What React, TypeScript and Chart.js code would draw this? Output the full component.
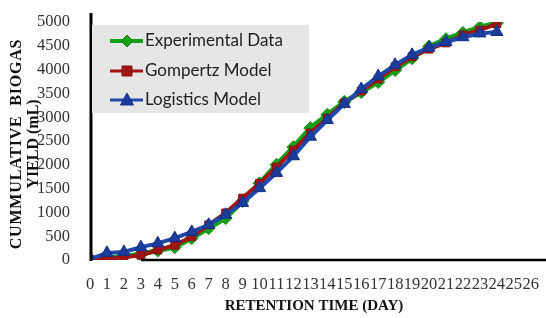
import React, { useEffect, useRef } from "react";
import { Chart, registerables } from "chart.js";

Chart.register(...registerables);

const days = [0, 1, 2, 3, 4, 5, 6, 7, 8, 9, 10, 11, 12, 13, 14, 15, 16, 17, 18, 19, 20, 21, 22, 23, 24];
const experimental = [30, 40, 80, 120, 200, 270, 460, 670, 880, 1240, 1610, 2000, 2370, 2770, 3050, 3320, 3530, 3740, 3990, 4240, 4480, 4640, 4770, 4890, 4980];
const gompertz = [10, 20, 60, 100, 210, 310, 490, 740, 990, 1300, 1610, 1950, 2310, 2670, 2980, 3300, 3550, 3800, 4060, 4270, 4430, 4560, 4730, 4830, 4960];
const logistics = [20, 150, 170, 270, 350, 460, 590, 740, 950, 1200, 1510, 1830, 2180, 2590, 2940, 3280, 3590, 3860, 4100, 4310, 4460, 4580, 4680, 4760, 4790];
const seriesNames = ["Experimental Data", "Gompertz Model", "Logistics Model"];
const xTitle = "RETENTION TIME (DAY)";
const yTitle = ["CUMMULATIVE  BIOGAS", "YIELD (mL)"];
const xMax = 26;
const yMax = 5000;
const yStep = 500;

const GREEN = "#17a017";
const RED = "#a01414";
const BLUE = "#1f48aa";
const BLUE_MARK = "#1c3c9c";

const styles = [
  { color: GREEN, point: "rectRot", radius: 6.5, width: 5, border: "#128a12" },
  { color: RED, point: "rect", radius: 5.5, width: 4, border: "#8a1010" },
  { color: BLUE, point: "triangle", radius: 7, width: 4, border: "#142e88", fill: BLUE_MARK },
];

export default function App() {
  const ref = useRef<HTMLCanvasElement | null>(null);

  useEffect(() => {
    if (!ref.current) return;
    const seriesData = [experimental, gompertz, logistics];

    const customPlugin = {
      id: "custom",
      afterDraw(chart: any) {
        const ctx = chart.ctx as CanvasRenderingContext2D;
        const xs = chart.scales.x;
        const ys = chart.scales.y;
        ctx.save();
        // axis lines
        ctx.strokeStyle = "#000";
        ctx.lineWidth = 3;
        ctx.beginPath();
        ctx.moveTo(91, 13);
        ctx.lineTo(91, ys.getPixelForValue(0) + 1);
        ctx.stroke();
        ctx.lineWidth = 2.5;
        ctx.beginPath();
        ctx.moveTo(xs.getPixelForValue(3), ys.getPixelForValue(0));
        ctx.lineTo(546, ys.getPixelForValue(0));
        ctx.stroke();

        // legend box
        ctx.fillStyle = "#e6e6e6";
        ctx.fillRect(92, 25, 217, 88);
        const rows = [41, 71, 100];
        seriesNames.forEach((name, i) => {
          const st: any = styles[i];
          const y = rows[i];
          ctx.strokeStyle = st.color;
          ctx.lineWidth = st.width - 1;
          ctx.beginPath();
          ctx.moveTo(110, y);
          ctx.lineTo(143, y);
          ctx.stroke();
          ctx.fillStyle = st.fill || st.color;
          ctx.strokeStyle = st.border;
          ctx.lineWidth = 1;
          const cx = 127;
          ctx.beginPath();
          if (st.point === "rectRot") {
            const r = 6;
            ctx.moveTo(cx, y - r);
            ctx.lineTo(cx + r, y);
            ctx.lineTo(cx, y + r);
            ctx.lineTo(cx - r, y);
            ctx.closePath();
          } else if (st.point === "rect") {
            ctx.rect(cx - 5, y - 5, 10, 10);
          } else {
            ctx.moveTo(cx, y - 7);
            ctx.lineTo(cx + 6.5, y + 5);
            ctx.lineTo(cx - 6.5, y + 5);
            ctx.closePath();
          }
          ctx.fill();
          ctx.stroke();
          ctx.fillStyle = "#222";
          ctx.font = "17px Lato";
          ctx.textAlign = "left";
          ctx.textBaseline = "middle";
          ctx.fillText(name, 145, y);
        });

        // titles
        ctx.fillStyle = "#111";
        ctx.font = "bold 15px 'Liberation Serif'";
        ctx.textAlign = "center";
        ctx.textBaseline = "middle";
        ctx.fillText(xTitle, 314, 306);

        ctx.font = "bold 16px 'Liberation Serif'";
        (ctx as any).letterSpacing = "0.8px";
        ctx.translate(17, 144);
        ctx.rotate(-Math.PI / 2);
        ctx.fillText(yTitle[0], 0, 0);
        (ctx as any).letterSpacing = "0px";
        ctx.fillText(yTitle[1], 0, 17);
        ctx.restore();
      },
    };

    const chart = new Chart(ref.current, {
      type: "line",
      data: {
        datasets: seriesData.map((arr, i) => {
          const st: any = styles[i];
          return {
            label: seriesNames[i],
            data: days.map((d, j) => ({ x: d, y: arr[j] })),
            borderColor: st.color,
            backgroundColor: st.fill || st.color,
            borderWidth: st.width,
            pointStyle: st.point,
            pointRadius: st.radius,
            pointBackgroundColor: st.fill || st.color,
            pointBorderColor: st.border,
            pointBorderWidth: 1,
            tension: 0,
            order: 2 - i,
          };
        }),
      },
      options: {
        responsive: false,
        animation: false,
        layout: { padding: { top: 22, right: 9, left: 0, bottom: 0 } },
        plugins: { legend: { display: false }, tooltip: { enabled: false } },
        scales: {
          x: {
            type: "linear",
            min: 0,
            max: xMax,
            grid: { display: false },
            border: { display: false },
            ticks: {
              stepSize: 1,
              autoSkip: false,
              maxRotation: 0,
              minRotation: 0,
              padding: 7,
              color: "#333",
              font: { family: "'Liberation Serif'", size: 16.5 },
              callback: (v: any) => String(v),
            },
            afterFit(scale: any) {
              scale.height = 58;
            },
          },
          y: {
            min: 0,
            max: yMax,
            grid: { display: false },
            border: { display: false },
            ticks: {
              stepSize: yStep,
              padding: 12,
              color: "#333",
              font: { family: "'Liberation Serif'", size: 16.5 },
              callback: (v: any) => String(v),
            },
            afterFit(scale: any) {
              scale.width = 90;
            },
          },
        },
      },
      plugins: [customPlugin],
    } as any);
    return () => chart.destroy();
  }, []);

  return (
    <div style={{ position: "fixed", left: 0, top: 0, width: 546, height: 318, background: "#fff" }}>
      <canvas ref={ref} width={546} height={318} style={{ display: "block" }} />
    </div>
  );
}
